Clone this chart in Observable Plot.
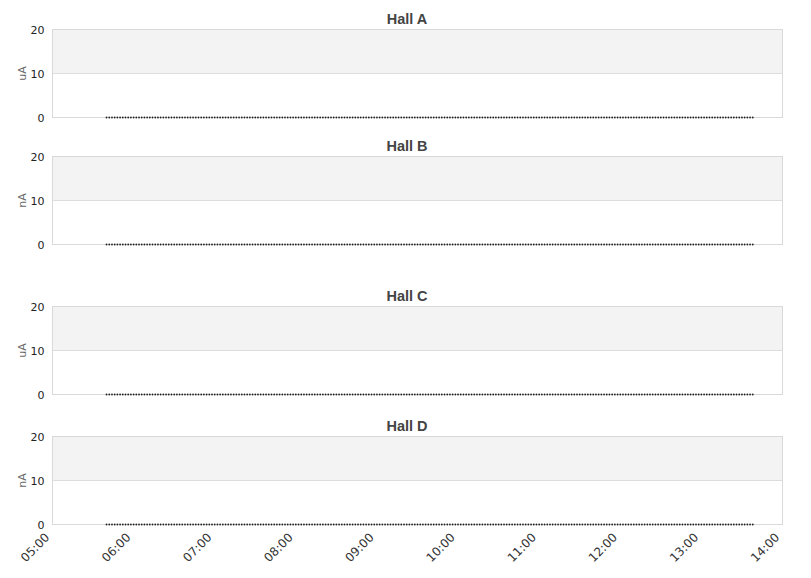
<!DOCTYPE html>
<html><head><meta charset="utf-8">
<script src="https://cdn.jsdelivr.net/npm/d3@7"></script>
<script src="https://cdn.jsdelivr.net/npm/@observablehq/plot@0.6"></script>
<style>
body{margin:0;background:#fff;}
#wrap{position:relative;width:811px;height:578px;}
#wrap svg{position:absolute;left:0;}
</style>
</head><body><div id="wrap"></div>
<script>
const halls = ["Hall A","Hall B","Hall C","Hall D"];
const units = ["uA","nA","uA","nA"];
const panelTops = [0,127,277,407];
const yTicks = [0,10,20];
const bands = [{y1:10,y2:20}];
const xStart = new Date(2020,0,1,5,0);
const xEnd = new Date(2020,0,1,14,0);
const dataStart = new Date(2020,0,1,5,40);
const dataEnd = new Date(2020,0,1,13,38);
const sampleValue = 0;
const times = d3.timeMinute.range(dataStart, d3.timeMinute.offset(dataEnd,1), 2);
const samples = times.map(t => ({t, v: sampleValue}));
const xTicks = d3.timeHour.range(xStart, d3.timeHour.offset(xEnd,1));

const wrap = document.getElementById("wrap");
halls.forEach((name,i) => {
  const last = i === halls.length-1;
  const mb = last ? 54 : 13;
  const chart = Plot.plot({
    width: 811,
    height: 29 + 88 + mb,
    marginLeft: 52,
    marginRight: 29,
    marginTop: 29,
    marginBottom: mb,
    style: {fontFamily: "DejaVu Sans, sans-serif", fontSize: "11px", color: "#333", background: "transparent", overflow: "visible"},
    x: {type: "time", domain: [xStart, xEnd], axis: null},
    y: {domain: [0,20], axis: null},
    marks: [
      Plot.rectY(bands, {x1: xStart, x2: xEnd, y1: "y1", y2: "y2", fill: "#f3f3f3"}),
      Plot.ruleY([10], {stroke: "#dddddd"}),
      Plot.frame({stroke: "#d9d9d9"}),
      Plot.axisY(yTicks, {tickSize: 0, tickPadding: 8, dy: 1, label: null, fontSize: 11, fill: "#222"}),
      Plot.text([units[i]], {frameAnchor: "left", dx: -30, rotate: -90, textAnchor: "middle", fill: "#666", fontSize: 11}),
      Plot.text([name], {frameAnchor: "top", dx: -10.5, dy: -16, fontFamily: "Liberation Sans, Arial, sans-serif", fontWeight: "bold", fontSize: 14.5, fill: "#444"}),
      Plot.dot(samples, {x: "t", y: "v", r: 0.9, fill: "#222", stroke: null}),
      ...(last ? [Plot.axisX(xTicks, {tickSize: 0, tickPadding: 6, dx: -5, dy: 5, tickRotate: -45, tickFormat: d3.timeFormat("%H:%M"), label: null, fontSize: 12, fill: "#333", textAnchor: "end"})] : [])
    ]
  });
  chart.style.top = panelTops[i] + "px";
  wrap.appendChild(chart);
});
</script>
</body></html>
